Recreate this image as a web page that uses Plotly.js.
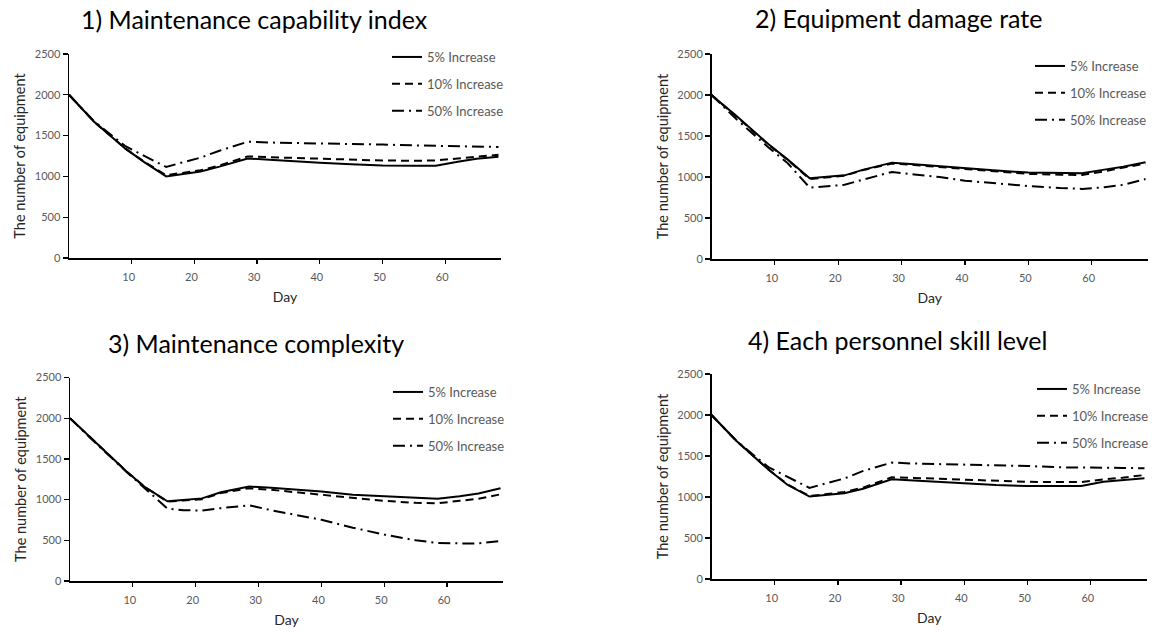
<!DOCTYPE html>
<html>
<head>
<meta charset="utf-8">
<script src="https://cdn.plot.ly/plotly-3.0.1.min.js"></script>
<style>html,body{margin:0;padding:0;background:#fff;}#chart{width:1158px;height:632px;}</style>
</head>
<body>
<div id="chart"></div>
<script>
// ---- data ----
const days = [0, 4, 9, 12, 15.5, 18, 21, 24, 28.5, 32, 36, 40, 45, 50, 55, 58.5, 62, 65, 68.5];
const seriesNames = ["5% Increase", "10% Increase", "50% Increase"];
const panelTitles = ["1) Maintenance capability index", "2) Equipment damage rate", "3) Maintenance complexity", "4) Each personnel skill level"];
const xTickVals = [10, 20, 30, 40, 50, 60];
const yTickVals = [0, 500, 1000, 1500, 2000, 2500];

// Panel 1: Maintenance capability index
const p1_5  = [2000, 1670, 1340, 1175, 1000, 1025, 1060, 1120, 1220, 1205, 1185, 1168, 1150, 1135, 1130, 1130, 1180, 1215, 1240];
const p1_10 = [2000, 1670, 1340, 1180, 1015, 1040, 1075, 1135, 1245, 1235, 1225, 1217, 1207, 1195, 1192, 1195, 1220, 1245, 1265];
const p1_50 = [2000, 1675, 1370, 1250, 1115, 1170, 1230, 1315, 1425, 1415, 1410, 1408, 1400, 1390, 1380, 1375, 1368, 1365, 1360];
// Panel 2: Equipment damage rate
const p2_5  = [2000, 1740, 1400, 1215, 985, 1000, 1020, 1090, 1175, 1155, 1130, 1110, 1078, 1055, 1048, 1045, 1090, 1125, 1180];
const p2_10 = [2000, 1735, 1395, 1210, 975, 995, 1015, 1085, 1165, 1145, 1120, 1098, 1065, 1038, 1028, 1024, 1070, 1110, 1165];
const p2_50 = [2000, 1700, 1360, 1170, 870, 885, 905, 970, 1062, 1030, 1000, 955, 920, 890, 865, 855, 875, 905, 975];
// Panel 3: Maintenance complexity
const p3_5  = [2000, 1705, 1345, 1150, 980, 995, 1015, 1090, 1160, 1145, 1125, 1100, 1060, 1040, 1020, 1010, 1040, 1075, 1140];
const p3_10 = [2000, 1705, 1345, 1150, 975, 990, 1005, 1080, 1140, 1120, 1090, 1060, 1020, 985, 960, 955, 985, 1010, 1065];
const p3_50 = [2000, 1700, 1340, 1130, 890, 870, 865, 895, 930, 870, 815, 752, 655, 570, 500, 468, 462, 462, 490];
// Panel 4: Each personnel skill level
const p4_5  = [2000, 1680, 1335, 1150, 1005, 1025, 1045, 1100, 1215, 1200, 1183, 1160, 1146, 1134, 1134, 1134, 1185, 1205, 1228];
const p4_10 = [2000, 1680, 1335, 1155, 1012, 1035, 1060, 1115, 1240, 1233, 1222, 1208, 1198, 1185, 1183, 1183, 1215, 1235, 1268];
const p4_50 = [2000, 1680, 1365, 1245, 1110, 1165, 1225, 1318, 1420, 1408, 1402, 1402, 1390, 1378, 1362, 1362, 1360, 1355, 1350];

const panels = [[p1_5, p1_10, p1_50], [p2_5, p2_10, p2_50], [p3_5, p3_10, p3_50], [p4_5, p4_10, p4_50]];

// ---- layout helpers ----
const W = 1158, H = 632;
const FONT = "Lato, 'Noto Sans', sans-serif";
const dashes = ["solid", "8px,5px", "12px,5px,2px,5px"];
// plot areas in pixels [x0, x1, yTop, yBottom]
const boxes = [[69, 501, 54, 258], [711.5, 1148, 54, 259], [70, 503, 377.5, 581], [711.5, 1147, 374, 579]];
const titlePos = [[254, 19], [898, 18], [256, 343], [897, 340]];
const legendPos = [[387, 42], [1030, 51], [388, 377], [1032, 374]];

const traces = [];
const layout = {
  width: W, height: H,
  margin: {l: 0, r: 0, t: 0, b: 0},
  paper_bgcolor: "#fff", plot_bgcolor: "#fff",
  font: {family: FONT, color: "#595959"},
  annotations: [],
  showlegend: true
};

panels.forEach((series, i) => {
  const n = i + 1;
  const xa = n === 1 ? "x" : "x" + n;
  const ya = n === 1 ? "y" : "y" + n;
  const lg = n === 1 ? "legend" : "legend" + n;
  series.forEach((vals, k) => {
    traces.push({
      x: days, y: vals, type: "scatter", mode: "lines",
      name: seriesNames[k], xaxis: xa, yaxis: ya, legend: lg,
      legendgroup: "g" + n + "_" + k,
      line: {color: "#000", width: 2, dash: dashes[k]},
      hoverinfo: "skip"
    });
  });
  const b = boxes[i];
  layout[n === 1 ? "xaxis" : "xaxis" + n] = {
    domain: [b[0] / W, b[1] / W], anchor: ya,
    range: [0, 68.9], tickvals: xTickVals, ticks: "outside", ticklen: 4, tickwidth: 1.3,
    tickcolor: "#000", showline: true, linecolor: "#000", linewidth: 1.5,
    showgrid: false, zeroline: false, tickfont: {size: 11, color: "#595959"},
    ticklabelshift: -3, ticklabelstandoff: 4,
    title: {text: "Day", font: {size: 14, color: "#262626"}, standoff: 10}
  };
  layout[n === 1 ? "yaxis" : "yaxis" + n] = {
    domain: [1 - b[3] / H, 1 - b[2] / H], anchor: xa,
    range: [0, 2500], tickvals: yTickVals, ticks: "outside", ticklen: 5, tickwidth: 1.3,
    tickcolor: "#000", showline: true, linecolor: "#000", linewidth: 1.5,
    showgrid: false, zeroline: false, tickfont: {size: 11, color: "#595959"},
    title: {text: "The number of equipment", font: {size: 14.5, color: "#262626"}, standoff: 5}
  };
  layout[lg] = {
    x: legendPos[i][0] / W, y: 1 - legendPos[i][1] / H, xanchor: "left", yanchor: "top",
    bgcolor: "rgba(0,0,0,0)", borderwidth: 0,
    font: {size: 13, color: "#595959", family: FONT},
    tracegroupgap: 7, traceorder: "grouped"
  };
  layout.annotations.push({
    text: panelTitles[i], xref: "paper", yref: "paper",
    x: titlePos[i][0] / W, y: 1 - titlePos[i][1] / H,
    xanchor: "center", yanchor: "middle", showarrow: false,
    font: {size: 25, color: "#000", family: FONT}
  });
});

Plotly.newPlot("chart", traces, layout, {displayModeBar: false, staticPlot: true});
</script>
</body>
</html>
